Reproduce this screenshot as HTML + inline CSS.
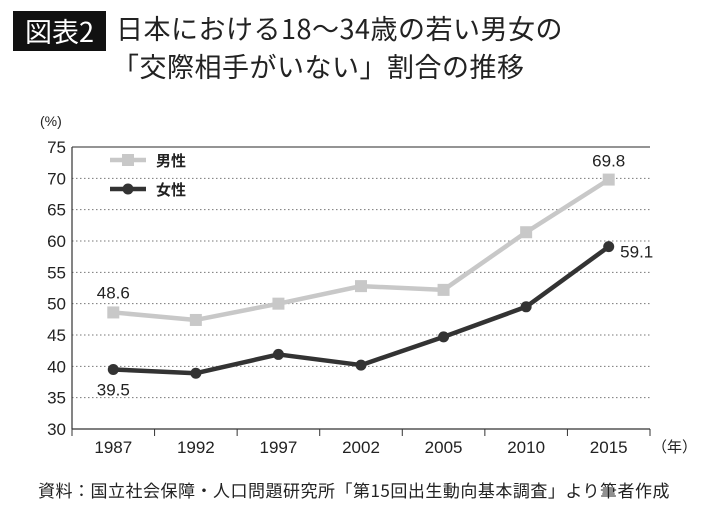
<!DOCTYPE html>
<html><head><meta charset="utf-8"><style>
body{margin:0;background:#fff;font-family:"Liberation Sans","Noto Sans CJK JP",sans-serif;}
#wrap{position:relative;width:710px;height:511px;overflow:hidden;}
</style></head><body>
<div id="wrap">
<div style="position:absolute;left:13px;top:11px;width:93px;height:40px;background:#111;color:#fff;font-size:27px;line-height:40px;text-align:center;font-family:'Noto Sans CJK JP',sans-serif;">図表2</div>
<div style="position:absolute;left:116px;top:9px;font-size:27px;line-height:38px;color:#222;font-family:'Noto Sans CJK JP',sans-serif;letter-spacing:0.5px;">日本における18〜34歳の若い男女の<br><span style="margin-left:-4px">「交際相手がいない」割合の推移</span></div>
<svg id="chart" width="710" height="511" style="position:absolute;left:0;top:0"></svg>
<div style="position:absolute;left:38px;top:477px;font-size:17px;color:#222;font-family:'Noto Sans CJK JP',sans-serif;letter-spacing:0.5px;">資料：国立社会保障・人口問題研究所「第15回出生動向基本調査」より筆者作成</div>
</div>
<script>
const categories=["1987","1992","1997","2002","2005","2010","2015"];
const menValues=[48.6,47.4,50.0,52.8,52.2,61.4,69.8];
const womenValues=[39.5,38.9,41.9,40.2,44.7,49.5,59.1];
const yTicks=[30,35,40,45,50,55,60,65,70,75];
const ns="http://www.w3.org/2000/svg";
const svg=document.getElementById('chart');
const L=72,R=650,T=147,B=429,ymin=30,ymax=75;
const bw=(R-L)/categories.length;
const x=i=>L+bw*(i+0.5);
const y=v=>B-(v-ymin)/(ymax-ymin)*(B-T);
function el(tag,a){const e=document.createElementNS(ns,tag);for(const k in a)e.setAttribute(k,a[k]);svg.appendChild(e);return e;}
yTicks.forEach(t=>{
 if(t>ymin&&t<ymax){const g=el('line',{x1:L,x2:R,y1:y(t),y2:y(t),stroke:'#777','stroke-dasharray':'1.5,2.5','stroke-width':1});
 
 }
 const tx=el('text',{x:L-6,y:y(t)+6,'text-anchor':'end','font-size':17,fill:'#222'});tx.textContent=t;
 
 
});
const topBorder=el('line',{x1:L,x2:R,y1:T,y2:T,stroke:'#555','stroke-width':1.2});


const ya=el('line',{x1:L,x2:L,y1:T,y2:B,stroke:'#333','stroke-width':1.2});


const xa=el('line',{x1:L,x2:R,y1:B,y2:B,stroke:'#333','stroke-width':1.2});


for(let i=0;i<=categories.length;i++){const tk=el('line',{x1:L+bw*i,x2:L+bw*i,y1:B,y2:B+7,stroke:'#333'});
 
 }
categories.forEach((c,i)=>{const t=el('text',{x:x(i),y:B+24,'text-anchor':'middle','font-size':17,fill:'#222'});t.textContent=c;
 
 });
const yu=el('text',{x:652,y:B+23,'font-size':15,fill:'#222'});yu.textContent='（年）';


const pu=el('text',{x:40,y:126,'font-size':14,fill:'#222'});pu.textContent='(%)';


function series(vals,color,square,name){
 const p=el('polyline',{points:vals.map((v,i)=>x(i)+','+y(v)).join(' '),fill:'none',stroke:color,'stroke-width':4.5,'stroke-linejoin':'round'});
 
 
 vals.forEach((v,i)=>{let m;
  if(square)m=el('rect',{x:x(i)-6,y:y(v)-6,width:12,height:12,fill:color});
  else m=el('circle',{cx:x(i),cy:y(v),r:5.5,fill:color});
  
  });
}
series(menValues,'#c8c8c8',true,'men');
series(womenValues,'#333333',false,'women');
function lab(s,xx,yy,n){const t=el('text',{x:xx,y:yy,'font-size':17,fill:'#222','text-anchor':'middle'});t.textContent=s;
 
 }
lab(menValues[0].toFixed(1),x(0),y(menValues[0])-14,'men-first-value');
lab(womenValues[0].toFixed(1),x(0),y(womenValues[0])+26,'women-first-value');
lab(menValues[6].toFixed(1),x(6),y(menValues[6])-13,'men-last-value');
lab(womenValues[6].toFixed(1),x(6)+28,y(womenValues[6])+11,'women-last-value');
const l1=el('line',{x1:110,x2:146,y1:160,y2:160,stroke:'#c8c8c8','stroke-width':4.5});


const r1=el('rect',{x:122,y:154,width:12,height:12,fill:'#c8c8c8'});


const t1=el('text',{x:156,y:166,'font-size':15,'font-weight':'bold',fill:'#222'});t1.textContent='男性';


const l2=el('line',{x1:110,x2:146,y1:189,y2:189,stroke:'#333','stroke-width':4.5});


const c2=el('circle',{cx:128,cy:189,r:5.5,fill:'#333'});


const t2=el('text',{x:156,y:195,'font-size':15,'font-weight':'bold',fill:'#222'});t2.textContent='女性';


</script>
</body></html>
